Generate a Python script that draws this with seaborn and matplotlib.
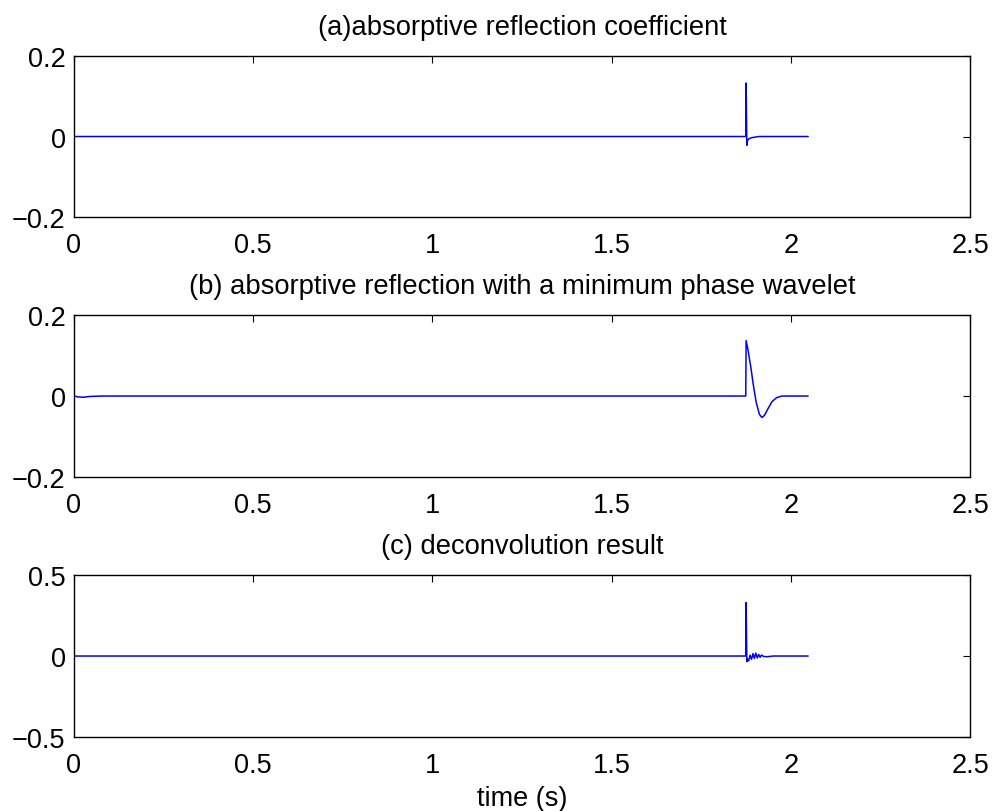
import numpy as np
import pandas as pd
import matplotlib
matplotlib.use('Agg')
import matplotlib.pyplot as plt
import seaborn as sns

# trace (a): absorptive reflection coefficient
t_a = [0.0, 1.870, 1.874, 1.875, 1.877, 1.878, 1.882, 1.890, 1.910, 2.048]
r_a = [0.0, 0.0, 0.0, 0.133, -0.022, -0.012, -0.006, -0.003, 0.0, 0.0]

# trace (b): reflection convolved with a minimum phase wavelet
t_b = [0.0, 0.010, 0.025, 0.045, 0.080, 1.874, 1.875, 1.880, 1.888, 1.895,
       1.903, 1.912, 1.919, 1.926, 1.935, 1.947, 1.960, 1.975, 2.048]
r_b = [0.0, -0.002, -0.003, -0.001, 0.0, 0.0, 0.137, 0.115, 0.072, 0.028,
       -0.015, -0.045, -0.053, -0.048, -0.033, -0.014, -0.004, 0.0, 0.0]

# trace (c): deconvolution result
t_c = [0.0, 1.870, 1.874, 1.875, 1.877, 1.879, 1.882, 1.886, 1.890, 1.894,
       1.898, 1.902, 1.906, 1.910, 1.914, 1.918, 1.924, 1.935, 1.950, 2.048]
r_c = [0.0, 0.0, 0.0, 0.330, -0.035, -0.020, -0.030, 0.005, -0.020, 0.015,
       -0.015, 0.018, -0.012, 0.010, -0.008, 0.006, -0.003, -0.004, 0.0, 0.0]

titles = ['(a)absorptive reflection coefficient',
          '(b) absorptive reflection with a minimum phase wavelet',
          '(c) deconvolution result']
ylims = [(-0.2, 0.2), (-0.2, 0.2), (-0.5, 0.5)]
yticks = [[-0.2, 0, 0.2], [-0.2, 0, 0.2], [-0.5, 0, 0.5]]
ytick_labels = [['\u22120.2', '0', '0.2'], ['\u22120.2', '0', '0.2'], ['\u22120.5', '0', '0.5']]
xticks = [0, 0.5, 1, 1.5, 2, 2.5]
xtick_labels = ['0', '0.5', '1', '1.5', '2', '2.5']

sns.set_style('white')
plt.rcParams['font.family'] = ['Liberation Sans', 'DejaVu Sans']
plt.rcParams['text.color'] = 'black'

fig = plt.figure(figsize=(9.93, 8.12), dpi=100)
boxes = [(0.0745, 0.7315, 0.9025, 0.1983),
         (0.0745, 0.4113, 0.9025, 0.1995),
         (0.0745, 0.0911, 0.9025, 0.1995)]

traces = [(t_a, r_a), (t_b, r_b), (t_c, r_c)]
for i, (box, (t, r)) in enumerate(zip(boxes, traces)):
    ax = fig.add_axes(box)
    df = pd.DataFrame({'t': t, 'r': r})
    sns.lineplot(data=df, x='t', y='r', ax=ax, color='#0000ff', linewidth=1.1,
                 estimator=None, sort=False)
    ax.set_xlim(0, 2.5)
    ax.set_ylim(*ylims[i])
    ax.set_xticks(xticks)
    ax.set_xticklabels(xtick_labels)
    ax.set_yticks(yticks[i])
    ax.set_yticklabels(ytick_labels[i])
    ax.tick_params(direction='in', length=5, width=0.8, top=True, right=True,
                   labelsize=19.5, colors='black')
    ax.tick_params(axis='x', pad=11)
    ax.tick_params(axis='y', pad=6)
    for s in ax.spines.values():
        s.set_visible(True)
        s.set_color('black')
        s.set_linewidth(1.0)
    ax.set_title(titles[i], fontsize=19.7, pad=16, color='black')
    ax.set_ylabel('')
    ax.set_xlabel('time (s)' if i == 2 else '', fontsize=19.5, labelpad=5,
                  color='black')

fig.savefig('out.png', dpi=100, facecolor='white')
